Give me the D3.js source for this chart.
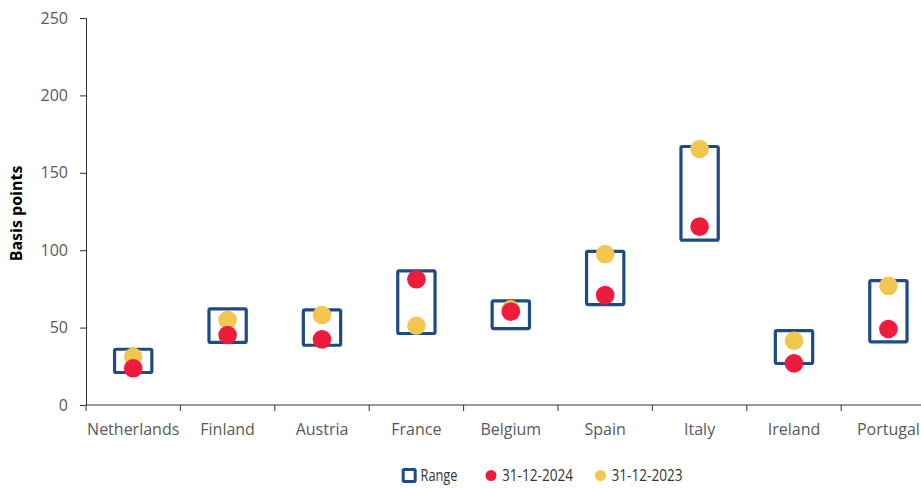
<!DOCTYPE html>
<html>
<head>
<meta charset="utf-8">
<script src="https://cdn.jsdelivr.net/npm/d3@7"></script>
<style>
  html, body { margin: 0; padding: 0; background: #ffffff; }
  svg { display: block; font-family: "Open Sans", "Noto Sans", sans-serif; }
</style>
</head>
<body>
<svg id="chart" width="921" height="488"></svg>
<script>
// Sovereign spreads by country, basis points
const countries = ["Netherlands", "Finland", "Austria", "France", "Belgium", "Spain", "Italy", "Ireland", "Portugal"];
const rangeLow  = [21, 40.4, 38.6, 46.2, 49.4, 64.9, 106.5, 26.8, 40.8];
const rangeHigh = [36, 62.1, 61.5, 86.7, 67.3, 99.2, 167, 48.1, 80.4];
const spread2024 = [23.7, 45.2, 42.4, 81.2, 60.3, 71, 115.2, 26.9, 49.1];
const spread2023 = [31.2, 54.9, 58.1, 51.2, 61.8, 97.5, 165.4, 41.5, 77];
const yTicks = [0, 50, 100, 150, 200, 250];
const legendLabels = ["Range", "31-12-2024", "31-12-2023"];

const BLUE = "#1e4b86", RED = "#ee1b3c", YELLOW = "#f3c650";
const AXIS = "#333333", TEXT = "#595959";

const svg = d3.select("#chart");

const x = d3.scaleBand().domain(countries).range([86, 86 + 9 * 94.4]).paddingInner(0).paddingOuter(0);
const y = d3.scaleLinear().domain([0, 250]).range([405, 18]);

// Y axis
const yAxis = svg.append("g")
  .attr("transform", "translate(86,0)")
  .call(d3.axisLeft(y).tickValues(yTicks).tickSize(6).tickPadding(12));
yAxis.select(".domain").attr("stroke", AXIS);
yAxis.selectAll(".tick line").attr("stroke", AXIS);
yAxis.selectAll(".tick text")
  .attr("fill", TEXT).style("font-size", "16px").style("font-family", "'Open Sans', sans-serif");

// X axis: baseline, ticks at category boundaries, labels centred under each category
svg.append("line")
  .attr("x1", 86).attr("x2", 921).attr("y1", y(0)).attr("y2", y(0))
  .attr("stroke", AXIS);
const bounds = countries.map(c => x(c));
svg.append("g").selectAll("line").data(bounds).join("line")
  .attr("x1", d => d).attr("x2", d => d)
  .attr("y1", y(0)).attr("y2", y(0) + 6)
  .attr("stroke", AXIS);
svg.append("g").selectAll("text").data(countries).join("text")
  .attr("x", d => x(d) + x.bandwidth() / 2)
  .attr("y", y(0) + 30)
  .attr("text-anchor", "middle")
  .attr("fill", TEXT)
  .style("font-size", "16px")
  .text(d => d);

// Y axis title
svg.append("text")
  .attr("transform", `translate(22,${(y(0) + y(250)) / 2 + 2}) rotate(-90)`)
  .attr("text-anchor", "middle")
  .attr("fill", "#000")
  .style("font-size", "16px")
  .style("font-weight", "700")
  .text("Basis points");

// Range boxes
const boxW = x.bandwidth() * 0.395;
svg.append("g").selectAll("rect").data(countries).join("rect")
  .attr("x", d => x(d) + x.bandwidth() / 2 - boxW / 2)
  .attr("width", boxW)
  .attr("y", (d, i) => y(rangeHigh[i]))
  .attr("height", (d, i) => y(rangeLow[i]) - y(rangeHigh[i]))
  .attr("rx", 1.5)
  .attr("fill", "none")
  .attr("stroke", BLUE)
  .attr("stroke-width", 3.2);

// Points: 2023 then 2024
const r = 9.3;
svg.append("g").selectAll("circle").data(countries).join("circle")
  .attr("cx", d => x(d) + x.bandwidth() / 2)
  .attr("cy", (d, i) => y(spread2023[i]))
  .attr("r", r)
  .attr("fill", YELLOW);
svg.append("g").selectAll("circle").data(countries).join("circle")
  .attr("cx", d => x(d) + x.bandwidth() / 2)
  .attr("cy", (d, i) => y(spread2024[i]))
  .attr("r", r)
  .attr("fill", RED);

// Legend
const legend = svg.append("g").style("font-size", "16px");
legend.append("rect")
  .attr("x", 403.2).attr("y", 469.5).attr("width", 12).attr("height", 12).attr("rx", 1)
  .attr("fill", "#fff").attr("stroke", BLUE).attr("stroke-width", 3);
legend.append("circle").attr("cx", 491).attr("cy", 475.5).attr("r", 5.5).attr("fill", RED);
legend.append("circle").attr("cx", 600.5).attr("cy", 475.5).attr("r", 5.5).attr("fill", YELLOW);
const legendX = [420.5, 502, 611.5];
const legendLen = [37, 71, 71];
legend.selectAll("text.lab").data(legendLabels).join("text")
  .attr("class", "lab")
  .attr("x", (d, i) => legendX[i])
  .attr("y", 481)
  .attr("fill", "#333")
  .attr("textLength", (d, i) => legendLen[i])
  .attr("lengthAdjust", "spacingAndGlyphs")
  .text(d => d);
</script>
</body>
</html>
